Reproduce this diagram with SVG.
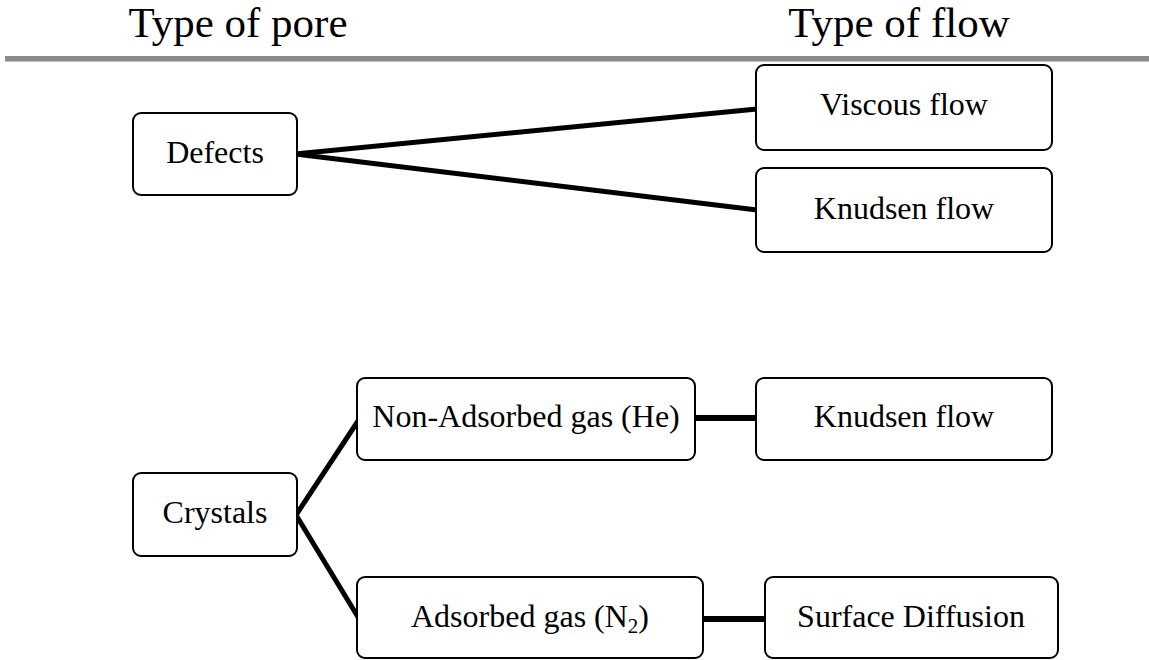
<svg xmlns="http://www.w3.org/2000/svg" width="1149" height="660" viewBox="0 0 1149 660">
  <style>
    .box { fill: #ffffff; stroke: #000000; stroke-width: 2; }
    .label { font-size: 32px; fill: #000000; text-anchor: middle; }
    .head { font-size: 43px; fill: #000000; text-anchor: middle; }
    .wire { stroke: #000000; stroke-width: 5; fill: none; stroke-linecap: butt; }
    .bar { stroke: #000000; stroke-width: 6; fill: none; }
  </style>
  <rect width="1149" height="660" fill="#ffffff"/>

  <g font-family="'Liberation Serif', 'Times New Roman', serif">
  <!-- column headings -->
  <g id="headings">
    <text class="head" x="238" y="37">Type of pore</text>
    <text class="head" x="899" y="37">Type of flow</text>
    <rect x="5" y="56" width="1144" height="5" fill="#8a8a8a"/>
    <rect x="5" y="61" width="1144" height="1" fill="#c4c4c4"/>
  </g>

  <!-- connectors -->
  <g id="connectors">
    <line class="wire" x1="295" y1="154" x2="757" y2="109"/>
    <line class="wire" x1="295" y1="154" x2="757" y2="210"/>
    <circle cx="296" cy="154" r="3" fill="#000000"/>
    <line class="wire" x1="296" y1="515" x2="358" y2="421"/>
    <line class="wire" x1="296" y1="515" x2="358" y2="617"/>
    <line class="bar" x1="695" y1="418" x2="757" y2="418"/>
    <line class="bar" x1="703" y1="619" x2="765" y2="619"/>
  </g>

  <g id="defects">
    <rect class="box" x="133" y="113" width="164" height="82" rx="8"/>
    <text class="label" x="215" y="163">Defects</text>
  </g>

  <g id="viscous-flow">
    <rect class="box" x="756" y="65" width="296" height="85" rx="8"/>
    <text class="label" x="904" y="115">Viscous flow</text>
  </g>

  <g id="knudsen-flow-1">
    <rect class="box" x="756" y="168" width="296" height="84" rx="8"/>
    <text class="label" x="904" y="219">Knudsen flow</text>
  </g>

  <g id="crystals">
    <rect class="box" x="133" y="473" width="164" height="83" rx="8"/>
    <text class="label" x="215" y="523">Crystals</text>
  </g>

  <g id="non-adsorbed-gas">
    <rect class="box" x="357" y="378" width="338" height="82" rx="8"/>
    <text class="label" x="526" y="427">Non-Adsorbed gas (He)</text>
  </g>

  <g id="knudsen-flow-2">
    <rect class="box" x="756" y="378" width="296" height="82" rx="8"/>
    <text class="label" x="904" y="427">Knudsen flow</text>
  </g>

  <g id="adsorbed-gas">
    <rect class="box" x="357" y="577" width="346" height="81" rx="8"/>
    <text class="label" x="530" y="627">Adsorbed gas (N<tspan font-size="21" dy="6">2</tspan><tspan dy="-6">)</tspan></text>
  </g>

  <g id="surface-diffusion">
    <rect class="box" x="765" y="577" width="293" height="81" rx="8"/>
    <text class="label" x="911" y="627">Surface Diffusion</text>
  </g>
  </g>
</svg>
